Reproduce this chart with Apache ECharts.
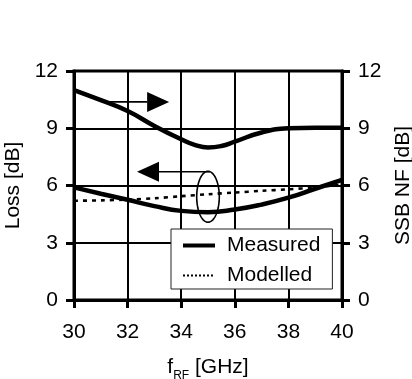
<!DOCTYPE html>
<html>
<head>
<meta charset="utf-8">
<script src="https://cdn.jsdelivr.net/npm/echarts@6/dist/echarts.min.js"></script>
<style>
  html, body { margin: 0; padding: 0; background: #fff; }
  #chart { width: 412px; height: 379px; }
</style>
</head>
<body>
<div id="chart"></div>
<script>
// Frequency sweep (GHz)
const freqGHz = [30, 31, 32, 33, 34, 35, 36, 37, 38, 39, 40];
// Measured conversion loss (left axis, dB)
const lossMeasured = [5.9, 5.57, 5.25, 4.92, 4.67, 4.6, 4.74, 5.0, 5.36, 5.83, 6.3];
// Modelled conversion loss (left axis, dB)
const lossModelled = [5.2, 5.22, 5.26, 5.33, 5.44, 5.54, 5.63, 5.72, 5.8, 5.9, 6.05];
// Measured SSB noise figure (right axis, dB), sampled more finely around its minimum
const nfFreqGHz = [30, 31, 32, 33, 34, 34.5, 35, 35.5, 36, 37, 38, 39, 40];
const nfMeasured = [11.0, 10.47, 9.9, 9.12, 8.42, 8.13, 7.99, 8.07, 8.3, 8.78, 9.0, 9.03, 9.03];

// Axis ticks
const xTicks = [30, 32, 34, 36, 38, 40];
const yTicks = [0, 3, 6, 9, 12];

// Annotation arrows in data units: [x0, y0, x1, y1] (tail -> tip)
const arrowToNF = [31.1, 10.38, 33.55, 10.38];
const arrowToLoss = [35.07, 6.72, 32.35, 6.72];
// Ellipse grouping the loss curves: [x, y] centre
const ellipseCentre = [35.0, 5.41];

const FONT = '"Liberation Sans", Arial, Helvetica, sans-serif';
const pair = (xs, ys) => xs.map((x, i) => [x, ys[i]]);

const chart = echarts.init(document.getElementById('chart'), null, { renderer: 'canvas' });

const axisCommon = {
  type: 'value',
  axisLine: { show: true, lineStyle: { color: '#000', width: 3 } },
  axisTick: { show: true, inside: false, length: 8, lineStyle: { color: '#000', width: 3 } },
  splitLine: { show: true, lineStyle: { color: '#000', width: 2 } },
  axisLabel: { color: '#000', fontFamily: FONT, fontSize: 21, margin: 16 },
  nameTextStyle: { color: '#000', fontFamily: FONT, fontSize: 21 },
  nameLocation: 'middle'
};

chart.setOption({
  animation: false,
  backgroundColor: '#fff',
  color: ['#000'],
  grid: {
    left: 74, right: 70, top: 71, bottom: 79,
    containLabel: false,
    outerBoundsMode: 'none',
    show: true, borderColor: '#000', borderWidth: 3, backgroundColor: 'transparent'
  },
  xAxis: Object.assign({}, axisCommon, {
    min: xTicks[0], max: xTicks[xTicks.length - 1], interval: 2,
    axisLabel: Object.assign({}, axisCommon.axisLabel, { margin: 22 }),
    name: '{m|f}{s|RF}{m| [GHz]}',
    nameGap: 54,
    nameTextStyle: {
      color: '#000', fontFamily: FONT,
      rich: {
        m: { fontFamily: FONT, fontSize: 21, color: '#000', verticalAlign: 'bottom', lineHeight: 24 },
        s: { fontFamily: FONT, fontSize: 12, color: '#000', verticalAlign: 'bottom', lineHeight: 24, padding: [0, 0, -4, 0] }
      }
    }
  }),
  yAxis: [
    Object.assign({}, axisCommon, {
      position: 'left',
      min: yTicks[0], max: yTicks[yTicks.length - 1], interval: 3,
      name: 'Loss [dB]', nameGap: 48
    }),
    Object.assign({}, axisCommon, {
      position: 'right',
      min: yTicks[0], max: yTicks[yTicks.length - 1], interval: 3,
      splitLine: { show: false },
      name: 'SSB NF [dB]', nameGap: 45
    })
  ],
  legend: {
    left: 171, top: 229,
    orient: 'vertical',
    backgroundColor: '#fff',
    borderColor: '#222', borderWidth: 1, borderRadius: 0,
    padding: [6, 12, 3, 10],
    itemGap: 9, itemWidth: 32, itemHeight: 14,
    selectedMode: false,
    itemStyle: { opacity: 0 },
    textStyle: { color: '#000', fontFamily: FONT, fontSize: 21, padding: [0, 0, 0, 7] },
    data: [
      { name: 'Measured', itemStyle: { opacity: 0 }, lineStyle: { width: 4, color: '#000' } },
      { name: 'Modelled', itemStyle: { opacity: 0 }, lineStyle: { width: 2, type: [2, 2], color: '#000' } }
    ]
  },
  series: [
    {
      name: 'Modelled', type: 'line', yAxisIndex: 0,
      data: pair(freqGHz, lossModelled),
      smooth: 0.3, symbol: 'none', z: 3,
      itemStyle: { color: '#000' },
      lineStyle: { color: '#000', width: 2.6, type: [4, 5] }
    },
    {
      name: 'Measured', type: 'line', yAxisIndex: 0,
      data: pair(freqGHz, lossMeasured),
      smooth: 0.5, symbol: 'none', z: 4,
      itemStyle: { color: '#000' },
      lineStyle: { color: '#000', width: 4.5 }
    },
    {
      name: 'Measured', type: 'line', yAxisIndex: 1,
      data: pair(nfFreqGHz, nfMeasured),
      smooth: 0.5, symbol: 'none', z: 4,
      itemStyle: { color: '#000' },
      lineStyle: { color: '#000', width: 4.5 }
    },
    {
      // arrows pointing each curve to its axis
      type: 'custom', yAxisIndex: 0, z: 5, silent: true,
      data: [arrowToNF, arrowToLoss],
      encode: { x: [0, 2], y: [1, 3] },
      renderItem: function (params, api) {
        const p0 = api.coord([api.value(0), api.value(1)]);
        const p1 = api.coord([api.value(2), api.value(3)]);
        const dx = p1[0] - p0[0], dy = p1[1] - p0[1];
        const len = Math.sqrt(dx * dx + dy * dy);
        const ux = dx / len, uy = dy / len;
        const headLen = 22, headHalf = 10;
        const bx = p1[0] - ux * headLen, by = p1[1] - uy * headLen;
        return {
          type: 'group',
          children: [
            { type: 'line', shape: { x1: p0[0], y1: p0[1], x2: bx, y2: by },
              style: { stroke: '#000', lineWidth: 1.6 } },
            { type: 'polygon',
              shape: { points: [[p1[0], p1[1]], [bx - uy * headHalf, by + ux * headHalf], [bx + uy * headHalf, by - ux * headHalf]] },
              style: { fill: '#000' } }
          ]
        };
      }
    },
    {
      // ellipse around the loss curves
      type: 'custom', yAxisIndex: 0, z: 5, silent: true,
      data: [ellipseCentre],
      renderItem: function (params, api) {
        const c = api.coord([api.value(0), api.value(1)]);
        const rx = 11.3, ry = 25.5, pts = [];
        for (let i = 0; i < 72; i++) {
          const t = i / 72 * Math.PI * 2;
          pts.push([c[0] + rx * Math.cos(t), c[1] + ry * Math.sin(t)]);
        }
        return { type: 'polygon', shape: { points: pts },
                 style: { fill: 'transparent', stroke: '#000', lineWidth: 1.6 } };
      }
    }
  ]
});
</script>
</body>
</html>
